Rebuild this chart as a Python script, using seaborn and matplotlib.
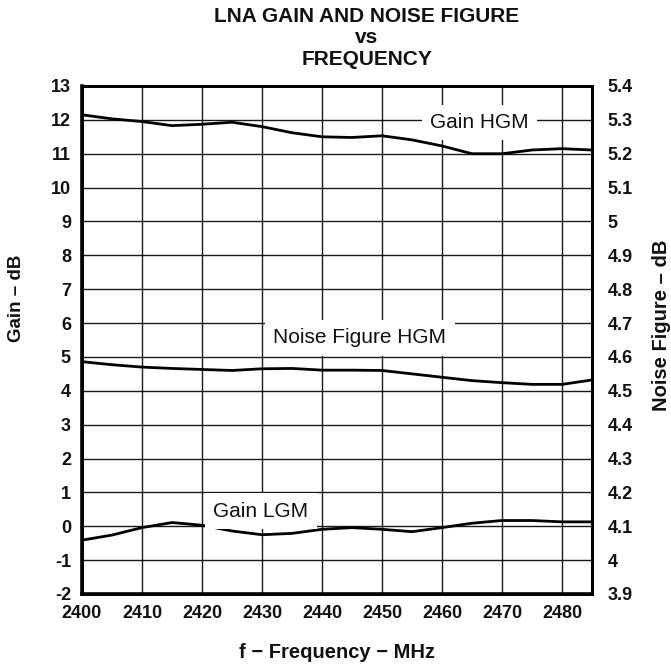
import matplotlib
matplotlib.use("Agg")
import matplotlib.pyplot as plt
import seaborn as sns
import pandas as pd

# ---- data ----
freq = [2400, 2405, 2410, 2415, 2420, 2425, 2430, 2435, 2440,
        2445, 2450, 2455, 2460, 2465, 2470, 2475, 2480, 2485]
gain_hgm = [12.15, 12.03, 11.95, 11.83, 11.87, 11.93, 11.80, 11.62, 11.50,
            11.48, 11.53, 11.41, 11.23, 11.00, 11.00, 11.11, 11.15, 11.11]
gain_lgm = [-0.41, -0.26, -0.04, 0.11, 0.03, -0.14, -0.25, -0.21, -0.09,
            -0.04, -0.09, -0.16, -0.04, 0.09, 0.17, 0.17, 0.13, 0.13]
nf_hgm = [4.586, 4.577, 4.570, 4.566, 4.563, 4.560, 4.565, 4.566, 4.561,
          4.561, 4.560, 4.550, 4.540, 4.530, 4.524, 4.519, 4.519, 4.532]

x_ticks = [2400, 2410, 2420, 2430, 2440, 2450, 2460, 2470, 2480]
gain_ticks = list(range(-2, 14))
nf_ticks = [3.9, 4.0, 4.1, 4.2, 4.3, 4.4, 4.5, 4.6, 4.7, 4.8, 4.9, 5.0, 5.1, 5.2, 5.3, 5.4]
nf_tick_labels = ["3.9", "4", "4.1", "4.2", "4.3", "4.4", "4.5", "4.6", "4.7",
                  "4.8", "4.9", "5", "5.1", "5.2", "5.3", "5.4"]

df = pd.DataFrame({"freq": freq, "gain_hgm": gain_hgm,
                   "gain_lgm": gain_lgm, "nf_hgm": nf_hgm})

sns.set_theme(style="white")
plt.rcParams["font.family"] = ["Liberation Sans", "DejaVu Sans"]
plt.rcParams["axes.unicode_minus"] = False

W, H = 671, 666
fig = plt.figure(figsize=(W / 100, H / 100), dpi=100)
fig.patch.set_facecolor("white")
L, R, T, B = 82, 592, 86, 594
ax = fig.add_axes([L / W, 1 - B / H, (R - L) / W, (B - T) / H])
ax2 = ax.twinx()

line_kw = dict(color="black", linewidth=2.0, legend=False)
sns.lineplot(data=df, x="freq", y="gain_hgm", ax=ax, **line_kw)
sns.lineplot(data=df, x="freq", y="gain_lgm", ax=ax, **line_kw)
sns.lineplot(data=df, x="freq", y="nf_hgm", ax=ax2, **line_kw)

ax.set_xlim(2400, 2485)
ax.set_ylim(-2, 13)
ax2.set_ylim(3.9, 5.4)
ax.set_xticks(x_ticks)
ax.set_xticklabels([str(v) for v in x_ticks])
ax.set_yticks(gain_ticks)
ax.set_yticklabels([str(v) for v in gain_ticks])
ax2.set_yticks(nf_ticks)
ax2.set_yticklabels(nf_tick_labels)

ax.grid(True, color="#1a1a1a", linewidth=1.0)
ax.set_axisbelow(True)
ax2.grid(False)

for a in (ax, ax2):
    for s in a.spines.values():
        s.set_color("black")
        s.set_linewidth(2.0)
ax.spines["left"].set_linewidth(2.6)
ax.spines["bottom"].set_linewidth(2.6)

ax.tick_params(axis="both", length=0, pad=8, labelsize=13, colors="#111111")
ax2.tick_params(axis="y", length=0, pad=11, labelsize=13, colors="#111111")
for lab in ax.get_xticklabels() + ax.get_yticklabels() + ax2.get_yticklabels():
    lab.set_fontweight("bold")

ax.set_xlabel("f \u2212 Frequency \u2212 MHz", fontsize=14.5, fontweight="bold", color="#111111")
ax.xaxis.set_label_coords(0.5, -(643 - B) / (B - T))
ax.set_ylabel("Gain \u2013 dB", fontsize=13.5, fontweight="bold", color="#111111")
ax.yaxis.set_label_coords(-(L - 25) / (R - L), (B - 298) / (B - T))
ax2.set_ylabel("Noise Figure \u2013 dB", fontsize=14.5, fontweight="bold", color="#111111")
ax2.yaxis.set_label_coords((652 - L) / (R - L), (B - 325) / (B - T))

box = dict(facecolor="white", edgecolor="none", pad=6)
ax.text(2466.2, 11.76, "Gain HGM", fontsize=15, ha="center", va="baseline",
        color="#111111", bbox=box, zorder=5)
ax.text(2446.3, 5.40, "Noise Figure HGM", fontsize=15, ha="center", va="baseline",
        color="#111111", bbox=box, zorder=5)
ax.text(2429.8, 0.28, "Gain LGM", fontsize=15, ha="center", va="baseline",
        color="#111111", bbox=box, zorder=5)

tx = 367 / W
fig.text(tx, 1 - 21.7 / H, "LNA GAIN AND NOISE FIGURE", ha="center", va="baseline",
         fontsize=15, fontweight="bold", color="#111111")
fig.text(tx, 1 - 43.3 / H, "vs", ha="center", va="baseline",
         fontsize=15, fontweight="bold", color="#111111")
fig.text(tx, 1 - 65 / H, "FREQUENCY", ha="center", va="baseline",
         fontsize=15, fontweight="bold", color="#111111")

fig.savefig("out.png", dpi=100, facecolor="white")
